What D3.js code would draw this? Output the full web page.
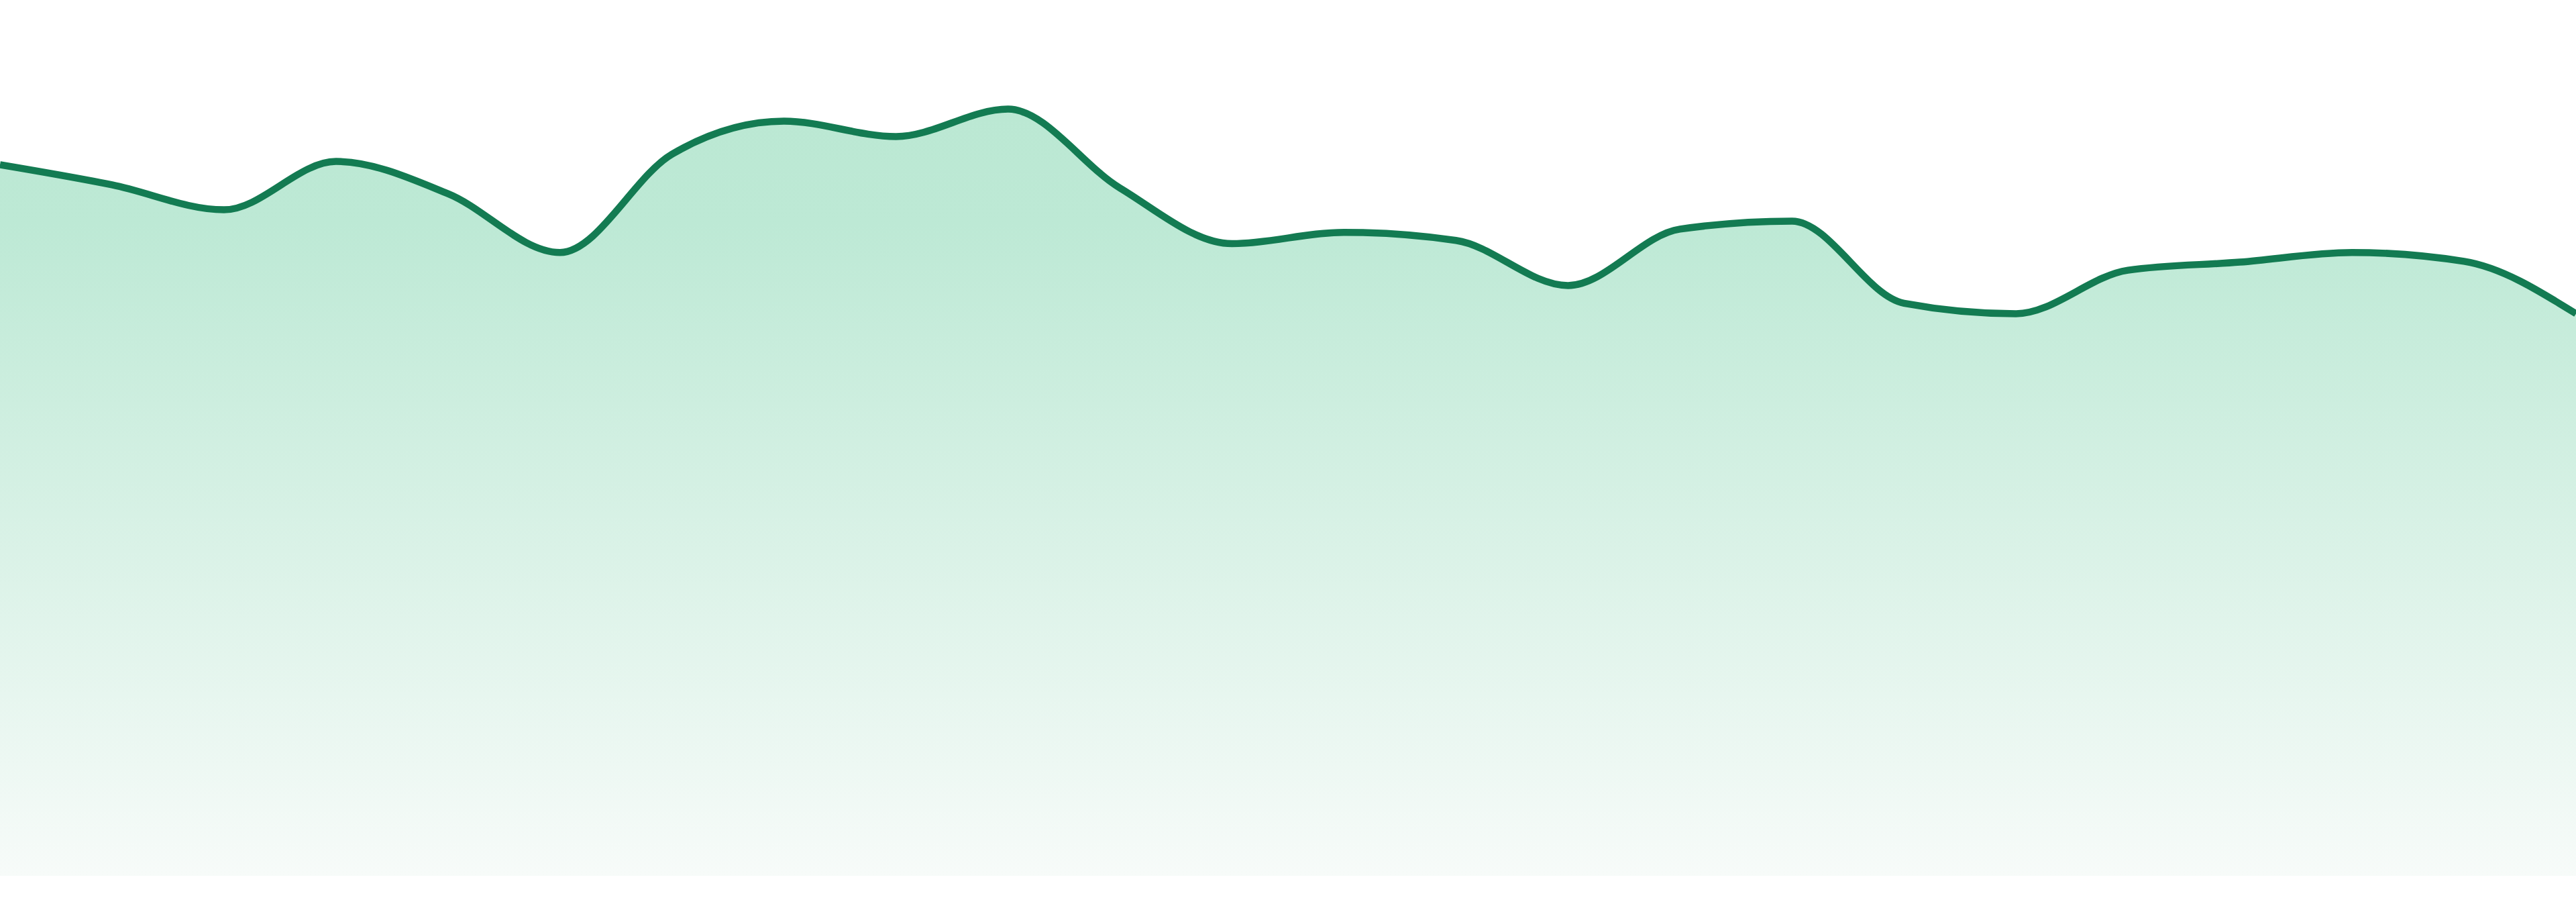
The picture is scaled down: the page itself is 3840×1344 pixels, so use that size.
<!DOCTYPE html>
<html>
<head>
<meta charset="utf-8">
<script src="https://cdn.jsdelivr.net/npm/d3@7"></script>
<style>
  html, body { margin: 0; padding: 0; background: #ffffff; overflow: hidden; }
  svg { display: block; }
</style>
</head>
<body>
<svg id="chart"></svg>
<script>
// Categories (24 evenly spaced periods)
const categories = ["1","2","3","4","5","6","7","8","9","10","11","12",
                    "13","14","15","16","17","18","19","20","21","22","23","24"];
// Series values
const values = [88.3, 85.8, 82.7, 88.7, 84.7, 77.4, 89.6, 93.7, 91.8, 95.2, 85.4, 78.5,
                79.9, 78.9, 73.3, 80.3, 81.3, 71.1, 69.8, 75.2, 76.2, 77.4, 76.3, 69.8];
const yDomain = [0, 100];

const W = 3840, H = 1344;
const margin = { top: 105, right: 0, bottom: 39, left: 0 };

const svg = d3.select("#chart").attr("width", W).attr("height", H);

const x = d3.scalePoint().domain(categories).range([margin.left, W - margin.right]);
const y = d3.scaleLinear().domain(yDomain).range([H - margin.bottom, margin.top]);

const defs = svg.append("defs");
const grad = defs.append("linearGradient")
  .attr("id", "areaGrad")
  .attr("x1", 0).attr("y1", 0).attr("x2", 0).attr("y2", 1);
grad.append("stop").attr("offset", "0%").attr("stop-color", "#bbe8d3");
grad.append("stop").attr("offset", "15%").attr("stop-color", "#bde9d5");
grad.append("stop").attr("offset", "100%").attr("stop-color", "#f7fbf9");

const data = categories.map((c, i) => ({ c, v: values[i] }));

const area = d3.area()
  .x(d => x(d.c))
  .y0(y(0))
  .y1(d => y(d.v))
  .curve(d3.curveMonotoneX);

const line = d3.line()
  .x(d => x(d.c))
  .y(d => y(d.v))
  .curve(d3.curveMonotoneX);

svg.append("path")
  .datum(data)
  .attr("d", area)
  .attr("fill", "url(#areaGrad)");

svg.append("path")
  .datum(data)
  .attr("d", line)
  .attr("fill", "none")
  .attr("stroke", "#137b52")
  .attr("stroke-width", 10.5)
  .attr("stroke-linejoin", "round");
</script>
</body>
</html>
